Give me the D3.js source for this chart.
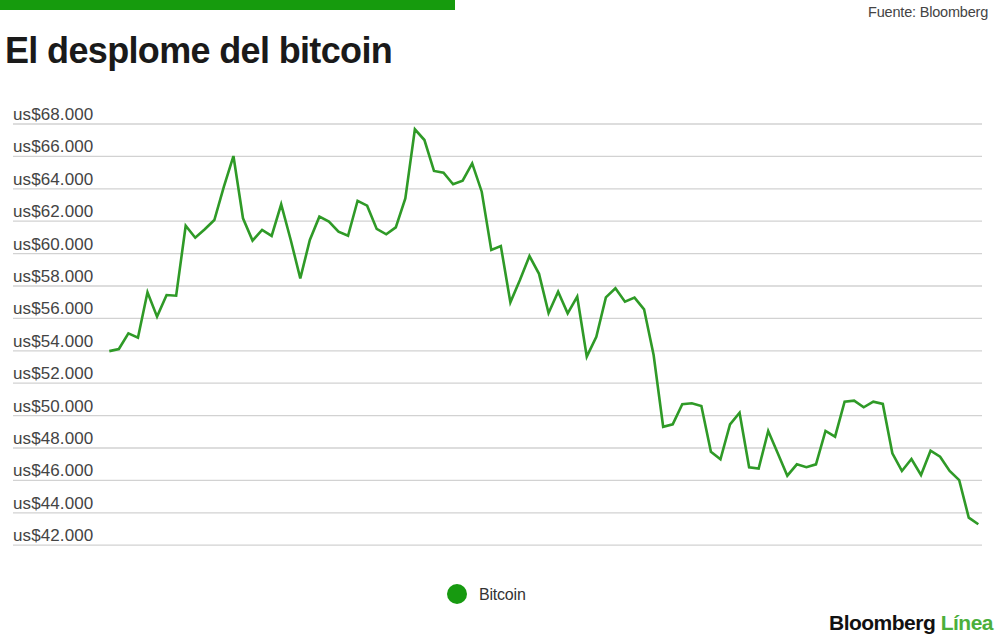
<!DOCTYPE html>
<html>
<head>
<meta charset="utf-8">
<script src="https://cdn.jsdelivr.net/npm/d3@7"></script>
<style>
  body { margin: 0; background: #fff; }
  svg { display: block; }
</style>
</head>
<body>
<div id="wrapper"></div>
<script>
// bitcoin close, one value per day
const btcValues = [
  53950, 54080, 55050, 54780, 57580, 56080, 57410, 57370, 61690, 60950,
  61470, 62040, 64100, 65990, 62150, 60770, 61430, 61060, 63010, 60810,
  58440, 60810, 62250, 61950, 61320, 61070, 63230, 62930, 61490, 61160,
  61590, 63380, 67640, 66980, 65070, 64960, 64250, 64470, 65540, 63790,
  60190, 60440, 56960, 58340, 59820, 58720, 56300, 57620, 56280, 57310,
  53610, 54840, 57270, 57830, 57000, 57250, 56530, 53710, 49280, 49430,
  50670, 50730, 50560, 47740, 47270, 49430, 50150, 46780, 46700, 49020,
  47640, 46260, 46960, 46780, 46960, 49020, 48670, 50830, 50890, 50480,
  50830, 50690, 47640, 46550, 47290, 46300, 47800, 47430, 46550, 45990,
  43670, 43260
]
const yTicks = [42000, 44000, 46000, 48000, 50000, 52000, 54000, 56000, 58000, 60000, 62000, 64000, 66000, 68000]
const seriesName = "Bitcoin"
const titleText = "El desplome del bitcoin"
const sourceText = "Fuente: Bloomberg"

const width = 1000, height = 635
const plot = {left: 13, right: 982, top: 123.5, bottom: 544.7}

const svg = d3.select("#wrapper")
    .append("svg")
    .attr("width", width)
    .attr("height", height)

// green band on top
svg.append("rect")
    .attr("x", 0).attr("y", 0)
    .attr("width", 455).attr("height", 10)
    .attr("fill", "#169b0d")

svg.append("text")
    .attr("x", 5).attr("y", 63)
    .attr("font-family", "Liberation Sans, Arial, sans-serif")
    .attr("font-weight", "bold")
    .attr("font-size", 36)
    .attr("letter-spacing", "-0.65")
    .attr("fill", "#1a1a1a")
    .text(titleText)

svg.append("text")
    .attr("x", 988).attr("y", 17)
    .attr("text-anchor", "end")
    .attr("font-family", "Liberation Sans, Arial, sans-serif")
    .attr("font-size", 14.5)
    .attr("letter-spacing", "-0.2")
    .attr("fill", "#444")
    .text(sourceText)

// scales
const xScale = d3.scaleLinear()
    .domain([0, btcValues.length - 1])
    .range([109.3, 978.3])
const yScale = d3.scaleLinear()
    .domain([42000, 68000])
    .range([plot.bottom, plot.top])

// y axis: gridlines + labels sitting on top of them
const fmt = d => "us$" + d3.format(",")(d).replace(/,/g, ".")
const yAxis = d3.axisLeft(yScale)
    .tickValues(yTicks)
    .tickSize(-(plot.right - plot.left))
    .tickFormat(fmt)
const gy = svg.append("g")
    .attr("transform", `translate(${plot.left},0)`)
    .call(yAxis)
gy.select(".domain").remove()
gy.selectAll(".tick line")
    .attr("stroke", "#d2d2d2")
    .attr("stroke-width", 1.3)
gy.selectAll(".tick text")
    .attr("x", 0)
    .attr("dy", -4)
    .attr("text-anchor", "start")
    .attr("font-family", "Liberation Sans, Arial, sans-serif")
    .attr("font-size", 17)
    .attr("letter-spacing", "0.1")
    .attr("fill", "#444")

// line
const line = d3.line()
    .x((d, i) => xScale(i))
    .y(d => yScale(d))
svg.append("path")
    .datum(btcValues)
    .attr("fill", "none")
    .attr("stroke", "#2f9a27")
    .attr("stroke-width", 2.6)
    .attr("stroke-linejoin", "miter")
    .attr("d", line)

// legend
svg.append("circle")
    .attr("cx", 457).attr("cy", 594).attr("r", 10)
    .attr("fill", "#179a10")
svg.append("text")
    .attr("x", 479).attr("y", 600)
    .attr("font-family", "Liberation Sans, Arial, sans-serif")
    .attr("font-size", 16)
    .attr("letter-spacing", "-0.2")
    .attr("fill", "#333")
    .text(seriesName)

// logo
const logo = svg.append("text")
    .attr("x", 993).attr("y", 630)
    .attr("text-anchor", "end")
    .attr("font-family", "Liberation Sans, Arial, sans-serif")
    .attr("font-weight", "bold")
    .attr("font-size", 21)
    .attr("letter-spacing", "-0.5")
logo.append("tspan").attr("fill", "#111").text("Bloomberg ")
logo.append("tspan").attr("fill", "#4caf3c").text("Línea")
</script>
</body>
</html>
